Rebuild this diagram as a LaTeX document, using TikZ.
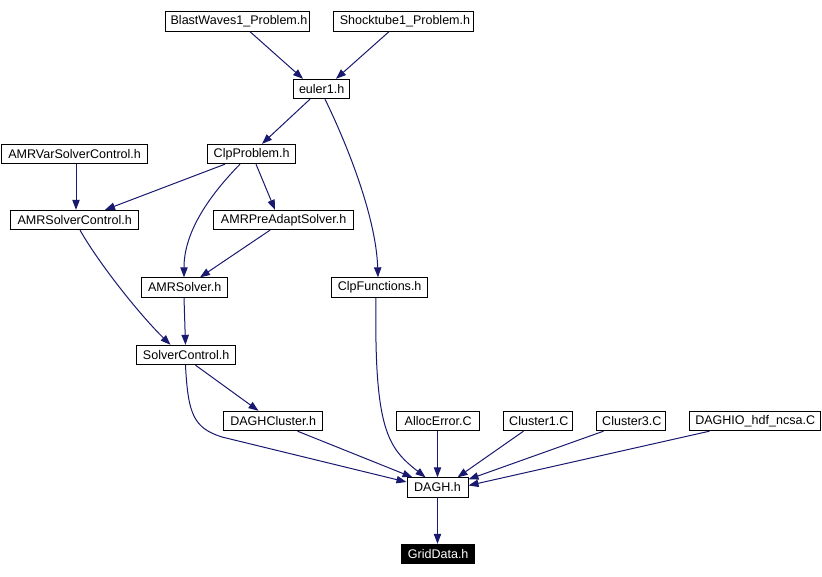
\documentclass[tikz,border=0pt]{standalone}
\usepackage{fontspec}
\setmainfont{Liberation Sans}
\usetikzlibrary{arrows.meta,calc}
\definecolor{edgeblue}{HTML}{191970}
\begin{document}
\begin{tikzpicture}[x=0.75pt,y=-0.75pt,
  box/.style={draw=black,line width=0.75pt,fill=white,inner sep=0pt,minimum height=14.5pt,font=\fontsize{9.4}{10}\selectfont,text=black},
  dark/.style={box,fill=black,text=white},
  edge/.style={draw=edgeblue,line width=0.75pt,-{Triangle[length=7.5pt,width=5.5pt]},shorten >=0pt}]
\useasboundingbox (0,0) rectangle (822,576);
\fill[white] (0,0) rectangle (822,576);
% nodes
\node[box,minimum width=108pt] (blast) at (237,21.5) {\hspace{3pt}BlastWaves1\_Problem.h};
\node[box,minimum width=105pt] (shock) at (403,21.5) {\hspace{3pt}Shocktube1\_Problem.h};
\node[box,minimum width=42pt] (euler) at (321,89) {\hspace{1pt}euler1.h};
\node[box,minimum width=109.5pt] (amrvar) at (74,154) {\hspace{1pt}AMRVarSolverControl.h};
\node[box,minimum width=66pt] (clp) at (251,154) {\hspace{1pt}ClpProblem.h};
\node[box,minimum width=96pt] (amrsc) at (74,220) {\hspace{1pt}AMRSolverControl.h};
\node[box,minimum width=105pt] (amrpre) at (283,220) {\hspace{1pt}AMRPreAdaptSolver.h};
\node[box,minimum width=64.5pt] (amrsol) at (184,287.5) {\hspace{1pt}AMRSolver.h};
\node[box,minimum width=72pt] (clpf) at (379,287.5) {\hspace{1pt}ClpFunctions.h};
\node[box,minimum width=74.25pt] (sc) at (185.5,355) {\hspace{1pt}SolverControl.h};
\node[box,minimum width=74.25pt] (daghcl) at (272.5,421) {\hspace{1pt}DAGHCluster.h};
\node[box,minimum width=62.25pt] (alloc) at (437.5,421) {\hspace{1pt}AllocError.C};
\node[box,minimum width=51.75pt] (cl1) at (537.5,421) {\hspace{2pt}Cluster1.C};
\node[box,minimum width=51.75pt] (cl3) at (630.5,421) {\hspace{2pt}Cluster3.C};
\node[box,minimum width=98.25pt] (daghio) at (754.5,421) {\hspace{1pt}DAGHIO\_hdf\_ncsa.C};
\node[box,minimum width=45.75pt] (dagh) at (437.5,487.5) {DAGH.h};
\node[dark,minimum width=54.75pt] (grid) at (437.5,554) {\hspace{1pt}GridData.h};
% edges
\draw[edge] ($(blast.south)+(13,0)$) -- ($(euler.north)+(-18,0)$);
\draw[edge] ($(shock.south)+(-14,0)$) -- ($(euler.north)+(15,0)$);
\draw[edge] ($(euler.south)+(-11,0)$) -- ($(clp.north)+(11,0)$);
\draw[edge] ($(euler.south)+(4,0)$) .. controls (345,140) and (376,215) .. ($(clpf.north)+(-1,0)$);
\draw[edge] ($(amrvar.south)+(2,0)$) -- ($(amrsc.north)+(2,0)$);
\draw[edge] ($(clp.south)+(-26,0)$) -- ($(amrsc.north)+(31,0)$);
\draw[edge] ($(clp.south)+(5,0)$) -- ($(amrpre.north)+(-8,0)$);
\draw[edge] ($(clp.south)+(-11,0)$) .. controls (205,200) and (184,235) .. (amrsol.north);
\draw[edge] ($(amrpre.south)+(-13,0)$) -- ($(amrsol.north)+(16,0)$);
\draw[edge] ($(amrsc.south)+(6,0)$) .. controls (100,265) and (140,315) .. ($(sc.north)+(-15,0)$);
\draw[edge] (amrsol.south) -- (sc.north);
\draw[edge] ($(sc.south)+(10,0)$) -- ($(daghcl.north)+(-14,0)$);
\draw[edge] ($(sc.south)+(0,0)$) .. controls (188,415) and (194,428) .. (222,437) -- ($(dagh.west)+(0,-5.5)$);
\draw[edge] ($(daghcl.south)+(25,0)$) -- ($(dagh.north)+(-25,0)$);
\draw[edge] ($(clpf.south)+(-3,0)$) .. controls (374,430) and (388,448) .. ($(dagh.north)+(-12,0)$);
\draw[edge] (alloc.south) -- (dagh.north);
\draw[edge] ($(cl1.south)+(-14,0)$) -- ($(dagh.north)+(20,0)$);
\draw[edge] ($(cl3.south)+(-27,0)$) -- ($(dagh.north east)+(0,2)$);
\draw[edge] ($(daghio.south)+(-45,0)$) -- ($(dagh.east)+(0,-2)$);
\draw[edge] (dagh.south) -- (grid.north);
\end{tikzpicture}
\end{document}
